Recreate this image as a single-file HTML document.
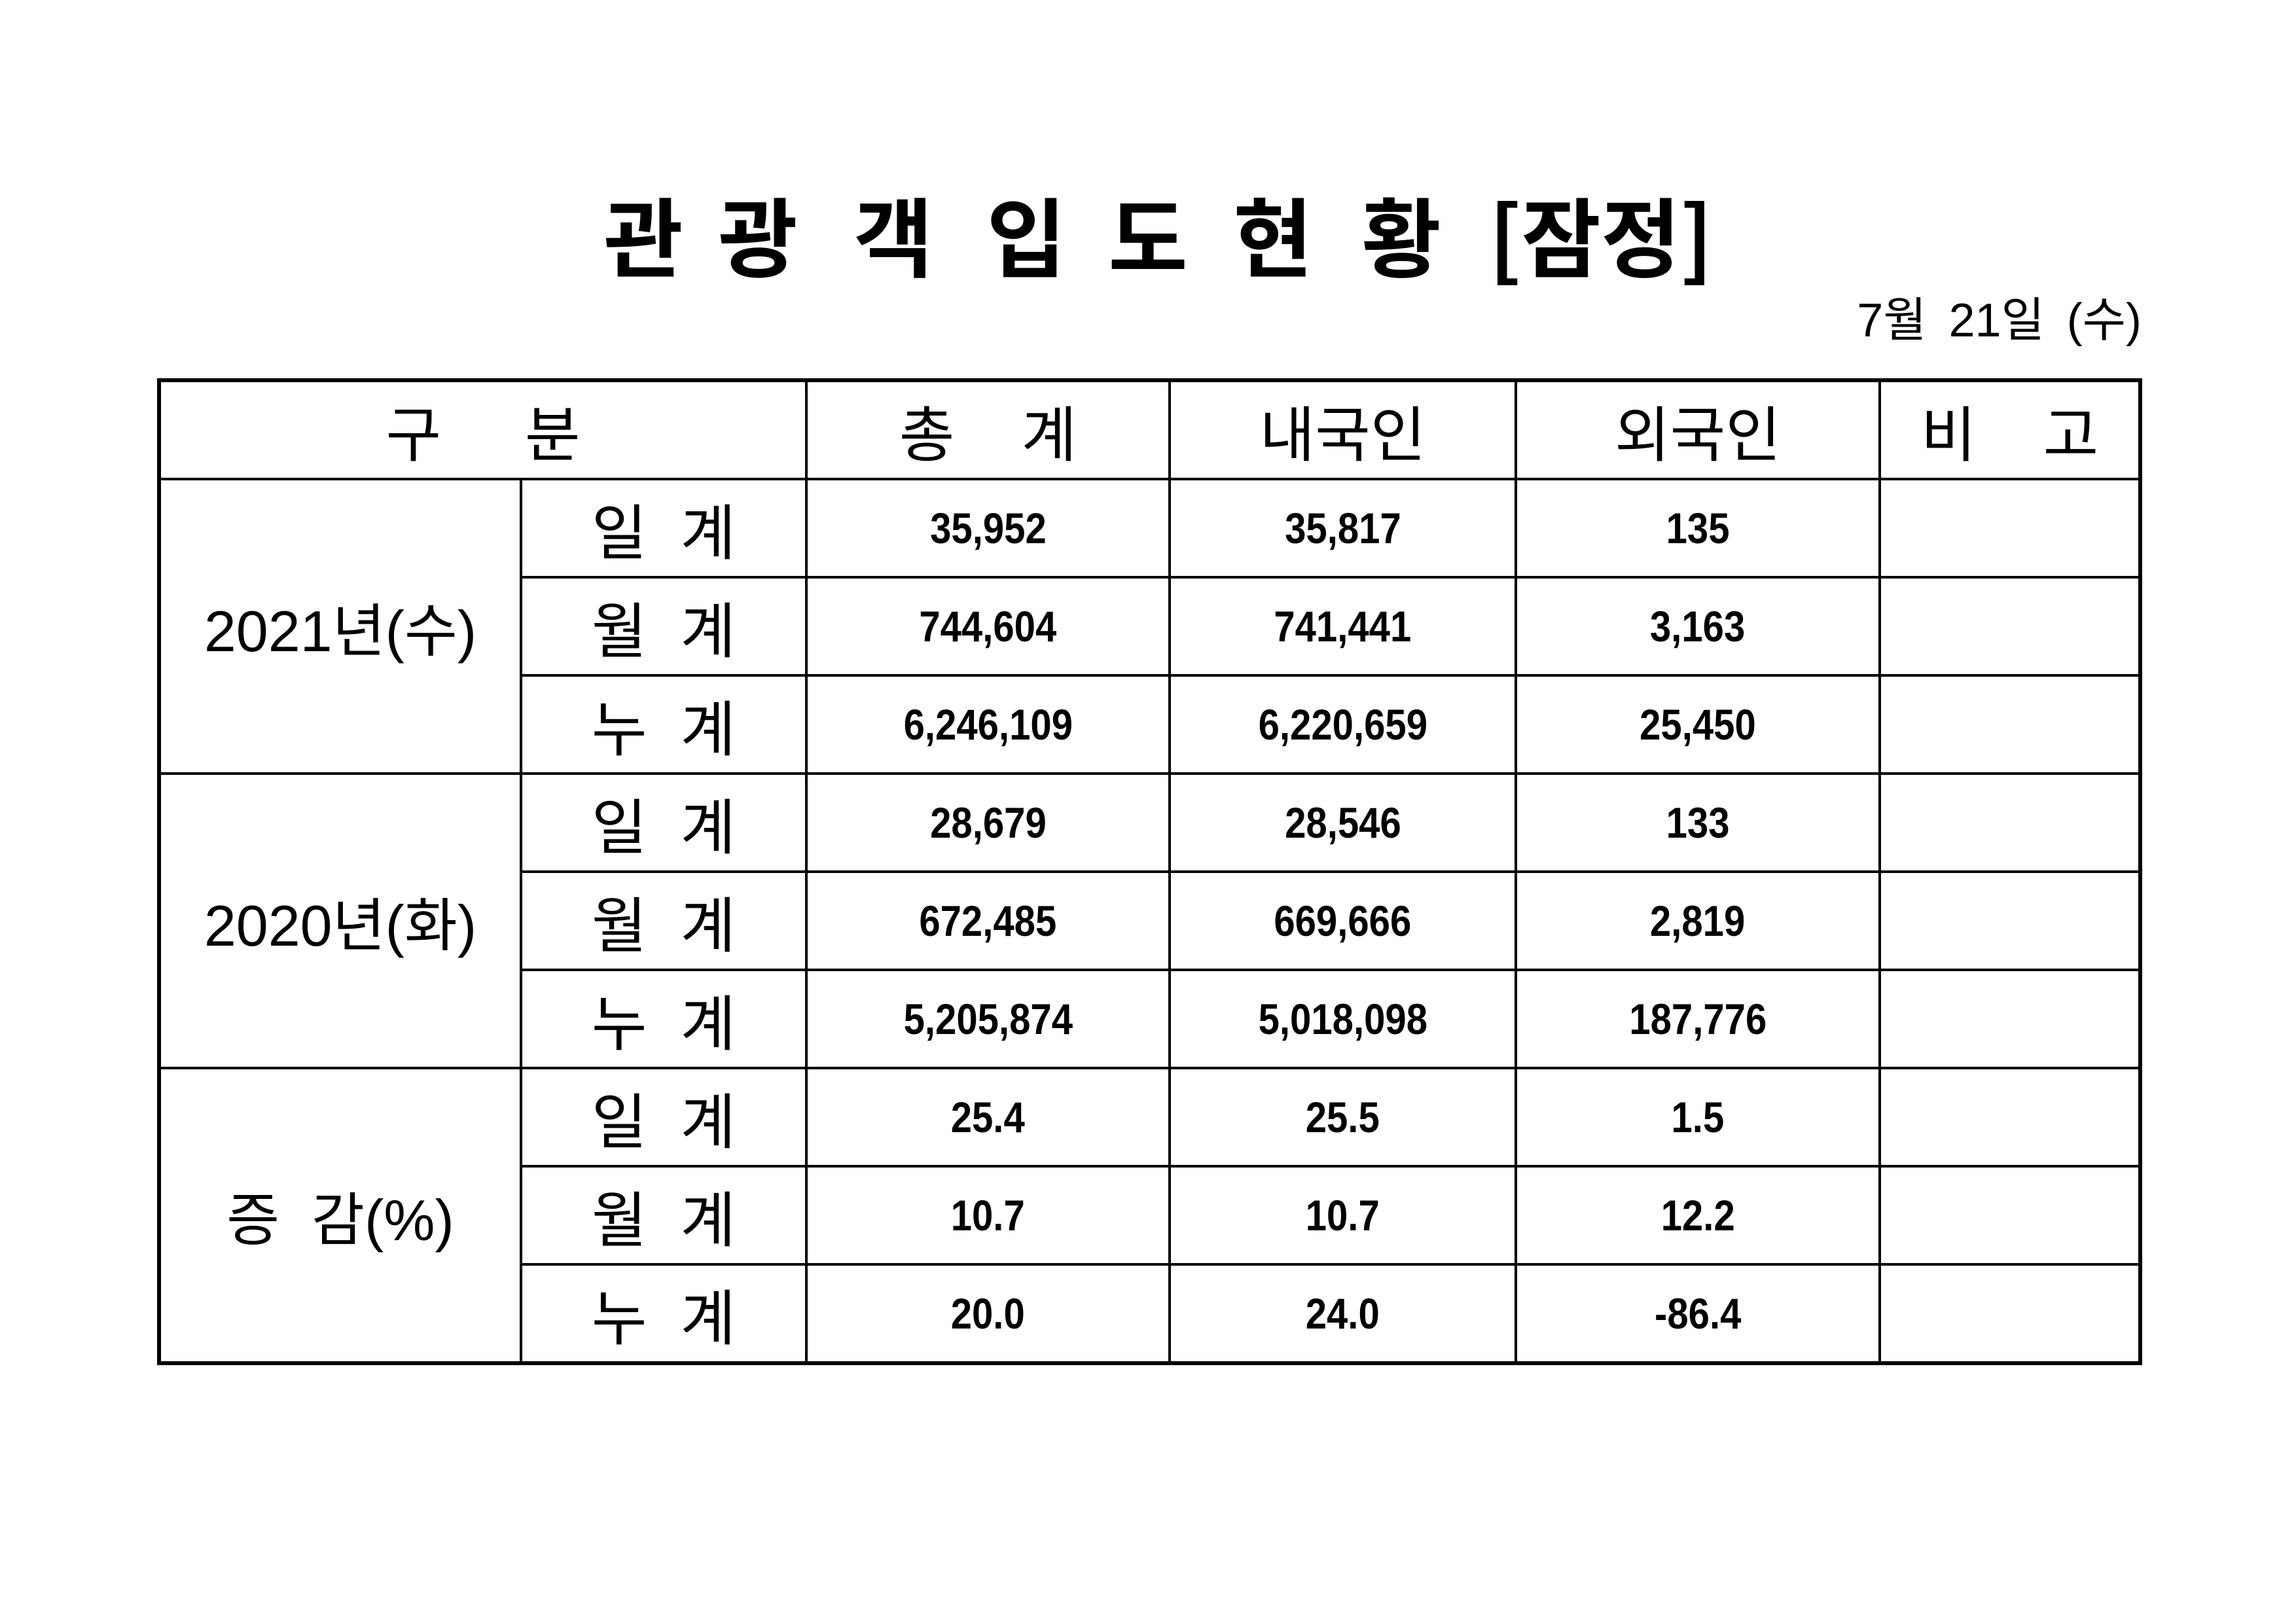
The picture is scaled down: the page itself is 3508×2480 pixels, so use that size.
<!DOCTYPE html>
<html><head><meta charset="utf-8"><style>
html,body{margin:0;padding:0;background:#fff;}
body{width:3508px;height:2480px;position:relative;overflow:hidden;font-family:"Liberation Sans","Noto Sans CJK KR",sans-serif;color:#000;}
.t{position:absolute;top:282px;font-size:132px;font-weight:bold;font-family:"Noto Sans CJK KR","NanumGothic",sans-serif;line-height:150px;transform:translateX(-50%);white-space:nowrap;}
.date{position:absolute;right:236px;top:445px;font-size:72px;font-family:"Liberation Sans","Noto Sans CJK KR",sans-serif;line-height:90px;word-spacing:14px;}
table{position:absolute;left:240px;top:578px;border-collapse:collapse;table-layout:fixed;border:6px solid #000;}
td{border:4px solid #000;height:146px;padding:0;text-align:center;vertical-align:middle;white-space:nowrap;}
.h{font-size:92px;font-family:"Liberation Sans","Noto Sans CJK KR",sans-serif;}
.lab{font-size:88px;}
.n{font-size:66px;font-weight:bold;}
.n span{display:inline-block;transform:scaleX(0.88);}
</style></head><body>
<div class="t" style="left:983px">관</div>
<div class="t" style="left:1158px">광</div>
<div class="t" style="left:1365px">객</div>
<div class="t" style="left:1568px">입</div>
<div class="t" style="left:1754px">도</div>
<div class="t" style="left:1945px">현</div>
<div class="t" style="left:2141px">황</div>
<div class="t" style="left:2446px">[잠정]</div>
<div class="date">7월 21일 (수)</div>
<table>
<colgroup><col style="width:553px"><col style="width:436px"><col style="width:555px"><col style="width:529px"><col style="width:556px"><col style="width:398px"></colgroup>
<tr><td colspan="2" class="h">구&nbsp;&nbsp;&nbsp;&nbsp;&nbsp;분</td><td class="h">총&nbsp;&nbsp;&nbsp;&nbsp;계</td><td class="h">내국인</td><td class="h">외국인</td><td class="h">비&nbsp;&nbsp;&nbsp;&nbsp;고</td></tr>
<tr><td rowspan="3" class="lab">2021년(수)</td><td class="h">일&nbsp;&nbsp;계</td><td class="n"><span>35,952</span></td><td class="n"><span>35,817</span></td><td class="n"><span>135</span></td><td></td></tr>
<tr><td class="h">월&nbsp;&nbsp;계</td><td class="n"><span>744,604</span></td><td class="n"><span>741,441</span></td><td class="n"><span>3,163</span></td><td></td></tr>
<tr><td class="h">누&nbsp;&nbsp;계</td><td class="n"><span>6,246,109</span></td><td class="n"><span>6,220,659</span></td><td class="n"><span>25,450</span></td><td></td></tr>
<tr><td rowspan="3" class="lab">2020년(화)</td><td class="h">일&nbsp;&nbsp;계</td><td class="n"><span>28,679</span></td><td class="n"><span>28,546</span></td><td class="n"><span>133</span></td><td></td></tr>
<tr><td class="h">월&nbsp;&nbsp;계</td><td class="n"><span>672,485</span></td><td class="n"><span>669,666</span></td><td class="n"><span>2,819</span></td><td></td></tr>
<tr><td class="h">누&nbsp;&nbsp;계</td><td class="n"><span>5,205,874</span></td><td class="n"><span>5,018,098</span></td><td class="n"><span>187,776</span></td><td></td></tr>
<tr><td rowspan="3" class="lab">증&nbsp;&nbsp;감(%)</td><td class="h">일&nbsp;&nbsp;계</td><td class="n"><span>25.4</span></td><td class="n"><span>25.5</span></td><td class="n"><span>1.5</span></td><td></td></tr>
<tr><td class="h">월&nbsp;&nbsp;계</td><td class="n"><span>10.7</span></td><td class="n"><span>10.7</span></td><td class="n"><span>12.2</span></td><td></td></tr>
<tr><td class="h">누&nbsp;&nbsp;계</td><td class="n"><span>20.0</span></td><td class="n"><span>24.0</span></td><td class="n"><span>-86.4</span></td><td></td></tr>
</table>
</body></html>
